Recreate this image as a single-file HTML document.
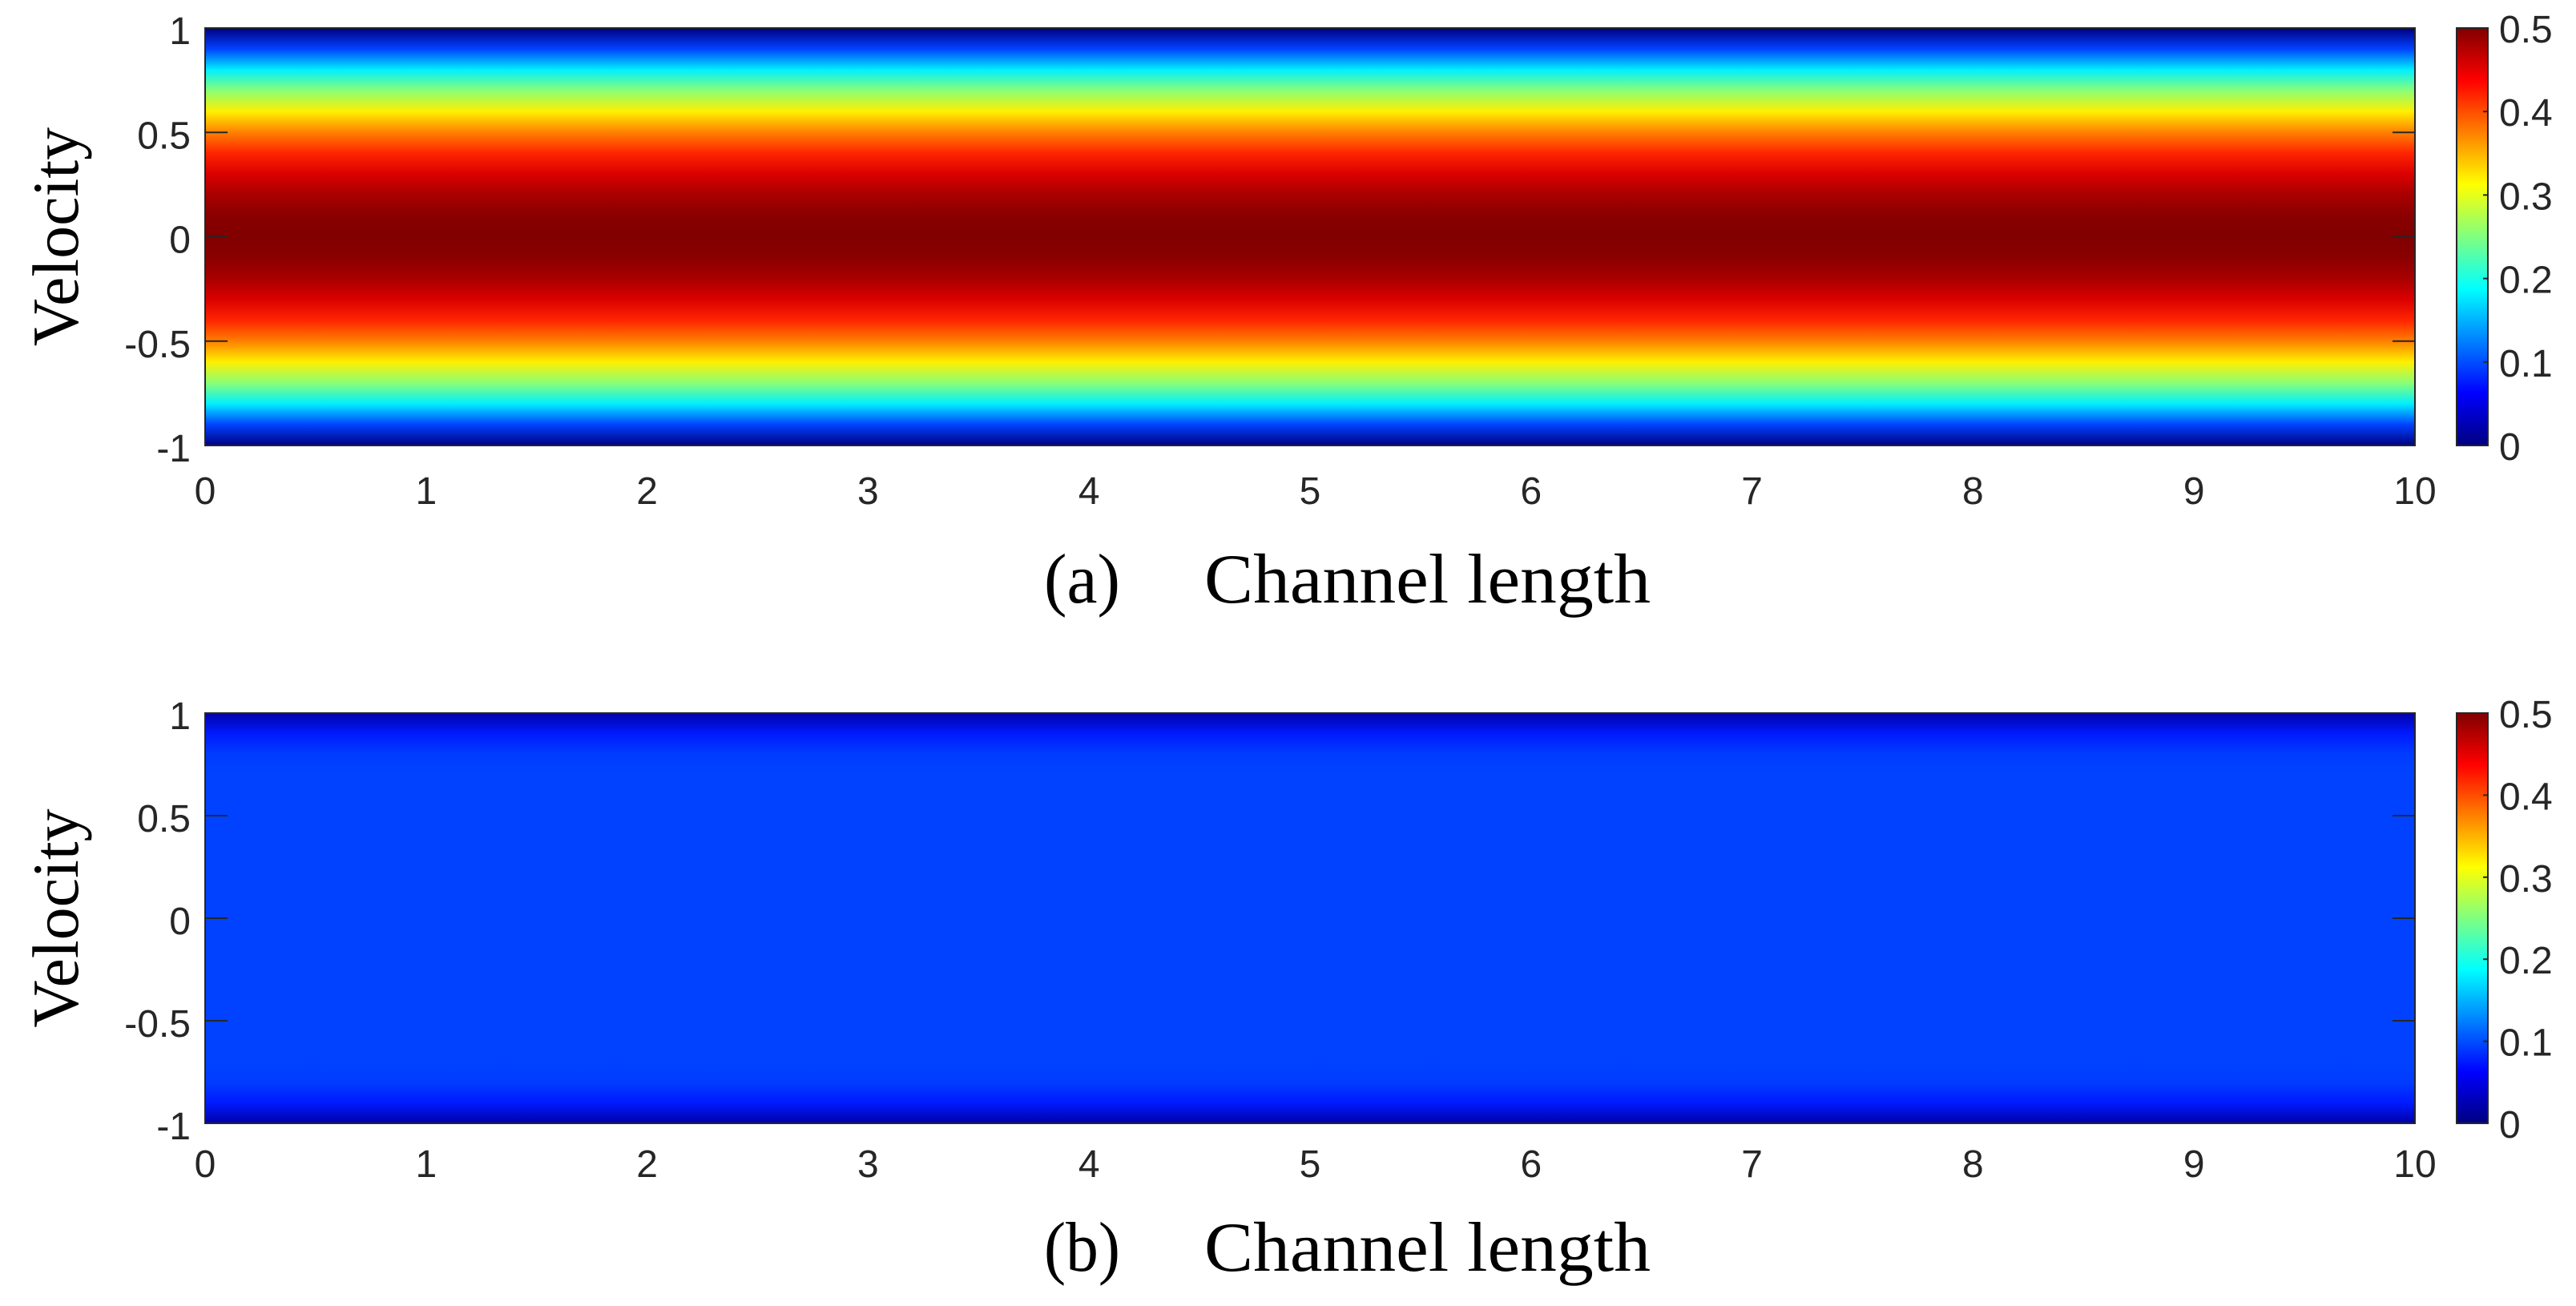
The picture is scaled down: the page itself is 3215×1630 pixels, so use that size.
<!DOCTYPE html>
<html><head><meta charset="utf-8"><style>
html,body{margin:0;padding:0;background:#fff;}
svg{display:block;}
.tk{font-family:"Liberation Sans",sans-serif;font-size:48px;fill:#262626;}
.ser{font-family:"Liberation Serif",serif;fill:#000;}
</style></head><body>
<svg id="fig" width="3215" height="1630" viewBox="0 0 3215 1630" xmlns="http://www.w3.org/2000/svg">
<defs></defs>
</svg>
<script>
// Velocity samples from y = 1 down to y = -1 (step 0.1)
const ySamples = [1,0.9,0.8,0.7,0.6,0.5,0.4,0.3,0.2,0.1,0,-0.1,-0.2,-0.3,-0.4,-0.5,-0.6,-0.7,-0.8,-0.9,-1];
const profileA = [0,0.095,0.18,0.255,0.32,0.375,0.42,0.455,0.48,0.495,0.5,0.495,0.48,0.455,0.42,0.375,0.32,0.255,0.18,0.095,0];
const profileB = [0.02,0.075,0.092,0.095,0.095,0.095,0.095,0.095,0.095,0.095,0.095,0.095,0.095,0.095,0.095,0.095,0.095,0.095,0.092,0.075,0.02];
const xTicks = [0,1,2,3,4,5,6,7,8,9,10];
const yTicks = [1,0.5,0,-0.5,-1];
const yTickLabels = ["1","0.5","0","-0.5","-1"];
const cTicks = [0,0.1,0.2,0.3,0.4,0.5];
const cTickLabels = ["0","0.1","0.2","0.3","0.4","0.5"];

const NS="http://www.w3.org/2000/svg";
const svg=document.getElementById('fig');
const defs=svg.querySelector('defs');
function mk(t,a,p){const e=document.createElementNS(NS,t);for(const k in a)e.setAttribute(k,a[k]);(p||svg).appendChild(e);return e;}
function jet(v){
  const c=x=>Math.max(0,Math.min(1,x));
  const r=c(1.5-Math.abs(4*v-3)), g=c(1.5-Math.abs(4*v-2)), b=c(1.5-Math.abs(4*v-1));
  return `rgb(${Math.round(r*255)},${Math.round(g*255)},${Math.round(b*255)})`;
}
const cmin=0,cmax=0.5;
const X0=256,X1=3014,CB0=3066,CB1=3105;
const panels=[
  {id:'a',top:35,bot:556,prof:profileA,tickY:611,capY:752},
  {id:'b',top:890,bot:1402,prof:profileB,tickY:1451,capY:1586}
];
panels.forEach(P=>{
  const xs=v=>X0+(v-0)/(10-0)*(X1-X0);
  const ys=v=>P.top+(1-v)/2*(P.bot-P.top);
  const cs=v=>P.bot-(v-cmin)/(cmax-cmin)*(P.bot-P.top);
  const g=mk('g',{});
  
  
  const lg=mk('linearGradient',{id:'grad'+P.id,x1:0,y1:0,x2:0,y2:1},defs);
  ySamples.forEach((y,i)=>{
    mk('stop',{offset:((1-y)/2).toFixed(4),'stop-color':jet((P.prof[i]-cmin)/(cmax-cmin))},lg);
  });
  const hm=mk('rect',{x:xs(0),y:ys(1),width:xs(10)-xs(0),height:ys(-1)-ys(1),fill:`url(#grad${P.id})`,stroke:'#262626','stroke-width':2},g);
  
  
  yTicks.forEach((t,i)=>{
    const y=ys(t);
    if(t!==1&&t!==-1){
      mk('line',{x1:X0,x2:X0+28,y1:y,y2:y,stroke:'#262626','stroke-width':2},g);
      mk('line',{x1:X1-28,x2:X1,y1:y,y2:y,stroke:'#262626','stroke-width':2},g);
    }
    const tx=mk('text',{x:238,y:y+20,'text-anchor':'end',class:'tk'},g);
    tx.textContent=yTickLabels[i];
    
    
  });
  xTicks.forEach(t=>{
    const x=xs(t);
    const tx=mk('text',{x:x,y:P.tickY+18,'text-anchor':'middle',class:'tk'},g);
    tx.textContent=String(t);
    
    
  });
  const yl=mk('text',{x:0,y:0,class:'ser','font-size':82,'text-anchor':'middle',transform:`translate(97,${(P.top+P.bot)/2}) rotate(-90)`},g);
  yl.textContent='Velocity';
  
  
  const ca=mk('text',{x:1303,y:P.capY,class:'ser','font-size':88,textLength:95,lengthAdjust:'spacingAndGlyphs'},g);
  ca.textContent='('+P.id+')';
  
  
  const xl=mk('text',{x:1503,y:P.capY,class:'ser','font-size':88,textLength:557,lengthAdjust:'spacingAndGlyphs'},g);
  xl.textContent='Channel length';
  
  
  const cg=mk('linearGradient',{id:'cb'+P.id,x1:0,y1:1,x2:0,y2:0},defs);
  for(let k=0;k<=8;k++){mk('stop',{offset:k/8,'stop-color':jet(k/8)},cg);}
  const cb=mk('rect',{x:CB0,y:P.top,width:CB1-CB0,height:P.bot-P.top,fill:`url(#cb${P.id})`,stroke:'#262626','stroke-width':2},g);
  
  
  cTicks.forEach((t,i)=>{
    const y=cs(t);
    if(t>cmin&&t<cmax) mk('line',{x1:CB1-6,x2:CB1,y1:y,y2:y,stroke:'#262626','stroke-width':2},g);
    const tx=mk('text',{x:3119,y:y+18,class:'tk'},g);
    tx.textContent=cTickLabels[i];
    
    
  });
});
</script>
</body></html>
